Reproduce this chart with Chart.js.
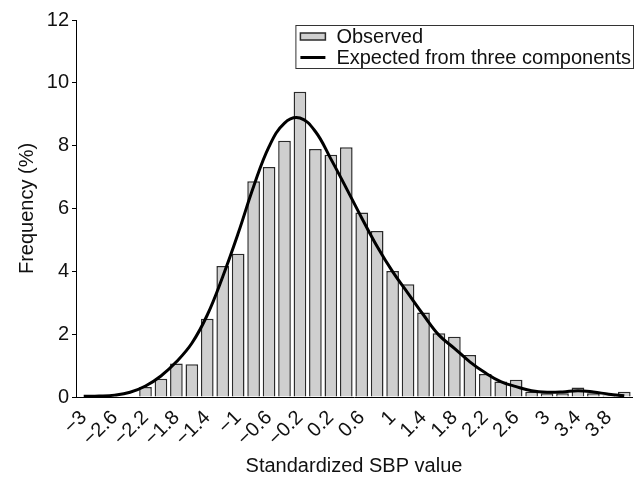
<!DOCTYPE html>
<html>
<head>
<meta charset="utf-8">
<script src="https://cdn.jsdelivr.net/npm/chart.js@4/dist/chart.umd.min.js"></script>
<style>
  html, body { margin: 0; padding: 0; background: #fff; }
  #wrap { width: 638px; height: 480px; }
</style>
</head>
<body>
<div id="wrap"><canvas id="sbp-chart"></canvas></div>
<script>
// histogram of standardized SBP, bins of 0.2
const categories = ['-3', '-2.8', '-2.6', '-2.4', '-2.2', '-2', '-1.8', '-1.6', '-1.4', '-1.2',
  '-1', '-0.8', '-0.6', '-0.4', '-0.2', '0', '0.2', '0.4', '0.6', '0.8',
  '1', '1.2', '1.4', '1.6', '1.8', '2', '2.2', '2.4', '2.6', '2.8',
  '3', '3.2', '3.4', '3.6', '3.8', '4'];
const observed = [0, 0, 0, 0, 0.32, 0.58, 1.07, 1.04, 2.49, 4.17,
  4.56, 6.87, 7.32, 8.16, 9.72, 7.89, 7.71, 7.95, 5.87, 5.28,
  4.01, 3.59, 2.69, 2.03, 1.92, 1.34, 0.73, 0.49, 0.55, 0.17,
  0.12, 0.12, 0.30, 0.12, 0.05, 0.17];
const expected = [0.02, 0.03, 0.06, 0.15, 0.35, 0.67, 1.12, 1.71, 2.61, 3.83,
  5.21, 6.70, 7.97, 8.72, 8.88, 8.45, 7.58, 6.65, 5.70, 4.79,
  3.99, 3.30, 2.61, 1.97, 1.55, 1.12, 0.77, 0.49, 0.33, 0.20,
  0.15, 0.16, 0.20, 0.16, 0.09, 0.04];
// only every other bin gets a label
const tickLabels = ['\u22123', '\u22122.6', '\u22122.2', '\u22121.8', '\u22121.4', '\u22121',
  '\u22120.6', '\u22120.2', '0.2', '0.6', '1', '1.4', '1.8', '2.2', '2.6', '3', '3.4', '3.8'];
const yTicks = [0, 2, 4, 6, 8, 10, 12];

const FONT = '"Liberation Sans", Arial, Helvetica, sans-serif';
const barFill = '#cfcfcf';
const barEdge = '#2b2b2b';

// legend box drawn inside the plot, top right
const boxLegend = {
  id: 'boxLegend',
  afterDraw(chart) {
    const ctx = chart.ctx;
    const area = chart.chartArea;
    const items = chart.data.datasets.map(d => d.label);
    ctx.save();
    ctx.font = '20px ' + FONT;
    const textW = Math.max(...items.map(t => ctx.measureText(t).width));
    const padL = 5, sw = 25, gap = 11, padR = 3, rowH = 21, padT = 1;
    const w = padL + sw + gap + textW + padR;
    const h = padT * 2 + rowH * items.length;
    const right = area.right + 2;
    const left = right - w;
    const top = area.top + 5;
    ctx.fillStyle = '#fff';
    ctx.fillRect(left, top, w, h);
    ctx.strokeStyle = '#333';
    ctx.lineWidth = 1;
    ctx.strokeRect(left + 0.5, top + 0.5, w - 1, h - 1);
    ctx.textBaseline = 'middle';
    items.forEach((label, i) => {
      const cy = top + padT + rowH * i + rowH / 2;
      const ds = chart.data.datasets[i];
      if (ds.type === 'line') {
        ctx.strokeStyle = ds.borderColor;
        ctx.lineWidth = 3;
        ctx.beginPath();
        ctx.moveTo(left + padL, cy);
        ctx.lineTo(left + padL + sw, cy);
        ctx.stroke();
      } else {
        ctx.fillStyle = ds.backgroundColor;
        ctx.fillRect(left + padL, cy - 3.5, sw, 7);
        ctx.strokeStyle = ds.borderColor;
        ctx.lineWidth = 1.5;
        ctx.strokeRect(left + padL, cy - 3.5, sw, 7);
      }
      ctx.fillStyle = '#111';
      ctx.fillText(label, left + padL + sw + gap, cy + 1);
    });
    ctx.restore();
  }
};

const ctx = document.getElementById('sbp-chart').getContext('2d');
new Chart(ctx, {
  data: {
    labels: categories,
    datasets: [{
      type: 'bar',
      label: 'Observed',
      data: observed,
      backgroundColor: barFill,
      borderColor: barEdge,
      borderWidth: 1.5,
      categoryPercentage: 1,
      barPercentage: 0.82,
      order: 2
    }, {
      type: 'line',
      label: 'Expected from three components',
      data: expected,
      borderColor: '#000',
      borderWidth: 3,
      pointRadius: 0,
      fill: false,
      tension: 0.4,
      order: 1
    }]
  },
  options: {
    responsive: true,
    maintainAspectRatio: false,
    animation: false,
    layout: { padding: { top: 20, right: 6, left: 0, bottom: 0 } },
    plugins: {
      legend: { display: false },
      tooltip: { enabled: false }
    },
    scales: {
      x: {
        type: 'category',
        offset: true,
        grid: { display: false },
        border: { display: true, color: '#000', width: 1 },
        ticks: {
          autoSkip: false,
          minRotation: 45,
          maxRotation: 45,
          padding: 1,
          color: '#111',
          font: { family: FONT, size: 20 },
          callback: (v, i) => (i % 2 === 0 ? tickLabels[i / 2] : '')
        },
        title: {
          display: true,
          text: 'Standardized SBP value',
          color: '#111',
          font: { family: FONT, size: 20 },
          padding: { top: 0, bottom: 2 }
        },
        afterFit: s => { s.height = 83; s.paddingRight = 0; s.paddingLeft = 0; }
      },
      y: {
        min: 0,
        max: 12,
        afterBuildTicks: s => { s.ticks = yTicks.map(v => ({ value: v })); },
        grid: { display: true, drawOnChartArea: false, drawTicks: true, tickLength: 4, color: '#000' },
        border: { display: true, color: '#000', width: 1 },
        ticks: {
          padding: 3,
          color: '#111',
          font: { family: FONT, size: 20 }
        },
        title: {
          display: true,
          text: 'Frequency (%)',
          color: '#111',
          font: { family: FONT, size: 20 },
          padding: { top: 15, bottom: 0 }
        },
        afterFit: s => { s.width = 76; s.paddingTop = 0; s.paddingBottom = 0; }
      }
    }
  },
  plugins: [boxLegend]
});
</script>
</body>
</html>
